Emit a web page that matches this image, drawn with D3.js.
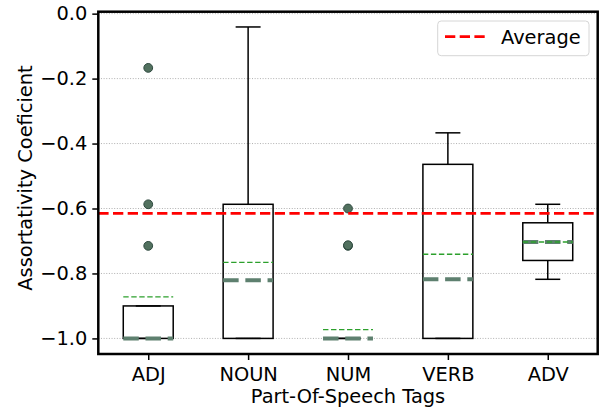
<!DOCTYPE html>
<html>
<head>
<meta charset="utf-8">
<script src="https://cdn.jsdelivr.net/npm/d3@7"></script>
<style>
  body { margin: 0; background: #fff; }
  svg { display: block; font-family: "DejaVu Sans", sans-serif; }
</style>
</head>
<body>
<svg id="chart" width="600" height="411"></svg>
<script>
// values
var categories = ["ADJ", "NOUN", "NUM", "VERB", "ADV"];
var q1 = [-1.0, -1.0, -1.0, -1.0, -0.760];
var q3 = [-0.900, -0.587, -1.0, -0.464, -0.644];
var medians = [-1.0, -0.821, -1.0, -0.818, -0.703];
var means = [-0.872, -0.766, -0.973, -0.741, -0.703];
var whiskerLow = [-1.0, -1.0, -1.0, -1.0, -0.818];
var whiskerHigh = [-0.900, -0.041, -1.0, -0.367, -0.587];
var outliers = [[-0.167, -0.587, -0.715], [], [-0.600, -0.715, -0.713], [], []];
var average = -0.615;
var yTicks = [-1.0, -0.8, -0.6, -0.4, -0.2, 0.0];

var svg = d3.select("svg#chart"),
    margin = { top: 11.7, right: 2.3, bottom: 57, left: 98.3 },
    width = 600 - margin.left - margin.right,
    height = 411 - margin.top - margin.bottom,
    g = svg.append("g").attr("transform", "translate(" + margin.left + "," + margin.top + ")");

var x = d3.scaleLinear().domain([0.5, 5.5]).range([0, width]);
var y = d3.scaleLinear().domain([-1.048, 0.006]).range([height, 0]);

var boxW = 0.5, capW = 0.25;
var fontSize = "19.4px";

// grid
g.append("g").selectAll("line")
    .data(yTicks)
    .enter().append("line")
    .attr("x1", 0).attr("x2", width)
    .attr("y1", function (d) { return y(d); })
    .attr("y2", function (d) { return y(d); })
    .attr("stroke", "#b0b0b0")
    .attr("stroke-width", 1)
    .attr("stroke-dasharray", "1,1.65");

var data = categories.map(function (c, i) {
    return { cat: c, pos: i + 1, q1: q1[i], q3: q3[i], med: medians[i], mean: means[i],
             lo: whiskerLow[i], hi: whiskerHigh[i], out: outliers[i] };
});

var box = g.selectAll(".box")
    .data(data)
    .enter().append("g")
    .attr("class", "box");

// whiskers
box.append("line")
    .attr("x1", function (d) { return x(d.pos); }).attr("x2", function (d) { return x(d.pos); })
    .attr("y1", function (d) { return y(d.q3); }).attr("y2", function (d) { return y(d.hi); })
    .attr("stroke", "#000").attr("stroke-width", 1.5);
box.append("line")
    .attr("x1", function (d) { return x(d.pos); }).attr("x2", function (d) { return x(d.pos); })
    .attr("y1", function (d) { return y(d.q1); }).attr("y2", function (d) { return y(d.lo); })
    .attr("stroke", "#000").attr("stroke-width", 1.5);

// caps
["hi", "lo"].forEach(function (k) {
    box.append("line")
        .attr("x1", function (d) { return x(d.pos - capW / 2); })
        .attr("x2", function (d) { return x(d.pos + capW / 2); })
        .attr("y1", function (d) { return y(d[k]); })
        .attr("y2", function (d) { return y(d[k]); })
        .attr("stroke", "#000").attr("stroke-width", 1.5);
});

// boxes
box.append("rect")
    .attr("x", function (d) { return x(d.pos - boxW / 2); })
    .attr("width", x(boxW) - x(0))
    .attr("y", function (d) { return y(d.q3); })
    .attr("height", function (d) { return y(d.q1) - y(d.q3); })
    .attr("fill", "none")
    .attr("stroke", "#000").attr("stroke-width", 1.5);

// average line
g.append("line")
    .attr("x1", 0).attr("x2", width)
    .attr("y1", y(average)).attr("y2", y(average))
    .attr("stroke", "#ff0000")
    .attr("stroke-width", 2.7)
    .attr("stroke-dasharray", "10.3,4.4");

// medians
box.append("line")
    .attr("x1", function (d) { return x(d.pos - boxW / 2); })
    .attr("x2", function (d) { return x(d.pos + boxW / 2); })
    .attr("y1", function (d) { return y(d.med); })
    .attr("y2", function (d) { return y(d.med); })
    .attr("stroke", "#5e806f")
    .attr("stroke-width", 4)
    .attr("stroke-dasharray", "15.5,6.7");

// means
box.append("line")
    .attr("x1", function (d) { return x(d.pos - boxW / 2); })
    .attr("x2", function (d) { return x(d.pos + boxW / 2); })
    .attr("y1", function (d) { return y(d.mean); })
    .attr("y2", function (d) { return y(d.mean); })
    .attr("stroke", "#2ca02c")
    .attr("stroke-width", 1.4)
    .attr("stroke-dasharray", "5.4,2.6");

// outliers
box.selectAll("circle")
    .data(function (d) { return d.out.map(function (v) { return { pos: d.pos, v: v }; }); })
    .enter().append("circle")
    .attr("cx", function (d) { return x(d.pos); })
    .attr("cy", function (d) { return y(d.v); })
    .attr("r", 4.4)
    .attr("fill", "#52715f")
    .attr("stroke", "#2f4a40")
    .attr("stroke-width", 1);

// axes
var yAxis = g.append("g")
    .call(d3.axisLeft(y).tickValues(yTicks).tickFormat(d3.format(".1f")).tickSize(6).tickPadding(5));
var xAxis = g.append("g")
    .attr("transform", "translate(0," + height + ")")
    .call(d3.axisBottom(x).tickValues([1, 2, 3, 4, 5]).tickFormat(function (d) { return categories[d - 1]; }).tickSize(6).tickPadding(6));

[yAxis, xAxis].forEach(function (a) {
    a.select(".domain").remove();
    a.selectAll(".tick line").attr("stroke", "#000").attr("stroke-width", 1.5);
    a.selectAll("text")
        .attr("fill", "#000")
        .style("font-size", fontSize)
        .style("font-family", "DejaVu Sans");
});
xAxis.selectAll("text").attr("dy", "0.75em");

// spines
g.append("rect")
    .attr("x", 0).attr("y", 0)
    .attr("width", width).attr("height", height)
    .attr("fill", "none")
    .attr("stroke", "#000")
    .attr("stroke-width", 2.5);

// axis labels
svg.append("text")
    .attr("x", margin.left + width / 2)
    .attr("y", 403)
    .attr("text-anchor", "middle")
    .style("font-size", fontSize)
    .text("Part-Of-Speech Tags");

svg.append("text")
    .attr("transform", "translate(32,178) rotate(-90)")
    .attr("text-anchor", "middle")
    .style("font-size", fontSize)
    .text("Assortativity Coeficient");

// legend
var legend = svg.append("g");
legend.append("rect")
    .attr("x", 437.7).attr("y", 21)
    .attr("width", 151.3).attr("height", 34.7)
    .attr("rx", 3.5)
    .attr("fill", "#fff").attr("fill-opacity", 0.8)
    .attr("stroke", "#d6d6d6").attr("stroke-width", 1);
legend.append("line")
    .attr("x1", 445).attr("x2", 485)
    .attr("y1", 36.7).attr("y2", 36.7)
    .attr("stroke", "#ff0000")
    .attr("stroke-width", 2.7)
    .attr("stroke-dasharray", "10.3,4.4");
legend.append("text")
    .attr("x", 501).attr("y", 44.3)
    .style("font-size", fontSize)
    .text("Average");
</script>
</body>
</html>
